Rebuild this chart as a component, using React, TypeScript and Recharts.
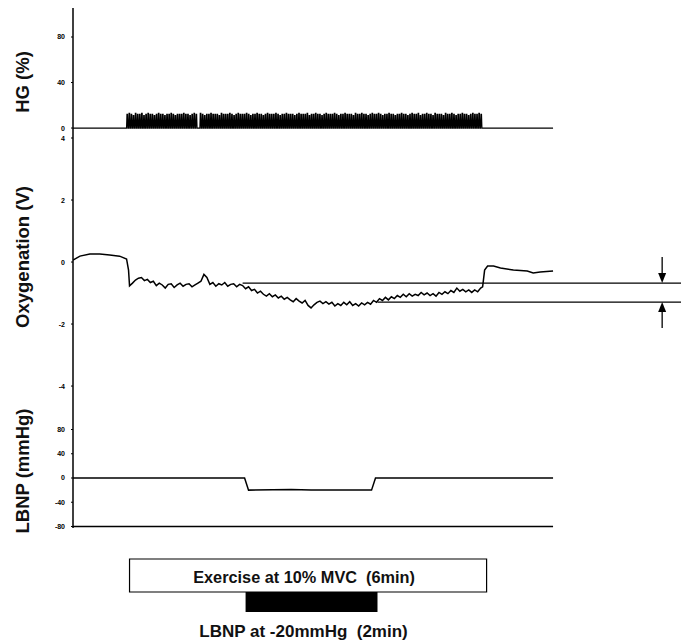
import { LineChart, Line, XAxis, YAxis, ReferenceLine, ReferenceArea } from "recharts";

const FONT = "'Liberation Sans', Arial, Helvetica, sans-serif";

// time axis in seconds; the plot runs on to the right page edge
const T_MAX = 613;
const T_END = 484;

const hgSpan = [54, 413];
const exerciseSpan = [57, 417];
const lbnpSpan = [174, 307];

const hgTicks = [0, 40, 80];
const oxyTicks = [-4, -2, 0, 2, 4];
const lbnpTicks = [-80, -40, 0, 40, 80];

// handgrip force, peak of each contraction (%)
const hgPeaks = [
  12, 13, 12, 11, 13, 12, 12, 13, 11, 12,
  13, 12, 12, 11, 12, 13, 12, 12, 11, 12,
  12, 13, 12, 11, 12, 12, 12, 13, 12, 12,
  11, 12, 13, 12, 0, 13, 12, 11, 12, 12,
  13, 12, 12, 12, 11, 13, 12, 12, 12, 13,
  12, 11, 12, 13, 12, 12, 12, 13, 12, 11,
  12, 12, 13, 12, 12, 11, 12, 13, 12, 12,
  12, 13, 12, 11, 12, 12, 13, 12, 12, 12,
  11, 12, 13, 12, 12, 12, 13, 11, 12, 12,
  13, 12, 12, 11, 12, 13, 12, 12, 12, 13,
  12, 11, 12, 12, 13, 12, 12, 12, 11, 13,
  12, 12, 13, 12, 12, 11, 12, 13, 12, 12,
  13, 12, 11, 12, 12, 13, 12, 12, 11, 12,
  12, 13, 12, 12, 11, 12, 13, 12, 12, 13,
  11, 12, 12, 13, 12, 12, 11, 13, 12, 12,
  12, 11, 13, 12, 12, 13, 12, 11, 12, 12,
  13, 12, 12, 11, 12, 13, 12, 12, 13, 12,
];

// oxygenation trace (s, V)
const oxyTime = [
  0, 7, 17, 27, 37, 47, 54, 56, 57,
  60, 63, 66, 69, 72, 75, 78, 81, 84, 87, 90, 93, 96, 99, 102, 105, 108, 111, 114, 117,
  120, 123, 126, 129, 132, 135, 138, 141, 144, 147, 150, 153, 156, 159, 162, 165, 168, 171, 174, 177,
  180, 183, 186, 189, 192, 195, 198, 201, 204, 207, 210, 213, 216, 219, 222, 225, 228, 231, 234, 237,
  240, 243, 246, 249, 252, 255, 258, 261, 264, 267, 270, 273, 276, 279, 282, 285, 288, 291, 294, 297,
  300, 303, 306, 309, 312, 315, 318, 321, 324, 327, 330, 333, 336, 339, 342, 345, 348, 351, 354, 357,
  360, 363, 366, 369, 372, 375, 378, 381, 384, 387, 390, 393, 396, 399, 402, 405, 408, 411,
  413, 415, 418, 424, 431, 444, 458, 464, 471, 484,
];
const oxyValue = [
  0.06, 0.19, 0.26, 0.26, 0.23, 0.19, 0.1, -0.26, -0.77,
  -0.68, -0.58, -0.52, -0.5, -0.6, -0.56, -0.66, -0.62, -0.76, -0.68, -0.74, -0.84, -0.72, -0.7, -0.82, -0.74, -0.68, -0.78, -0.72, -0.7,
  -0.8, -0.74, -0.68, -0.62, -0.4, -0.5, -0.72, -0.66, -0.78, -0.7, -0.74, -0.66, -0.78, -0.72, -0.7, -0.8, -0.72, -0.76, -0.86, -0.8,
  -0.92, -0.88, -1.0, -0.94, -1.04, -1.1, -1.02, -1.12, -1.06, -1.16, -1.1, -1.2, -1.14, -1.22, -1.28, -1.18, -1.26, -1.32, -1.24, -1.4,
  -1.48, -1.38, -1.3, -1.26, -1.34, -1.28, -1.36, -1.3, -1.42, -1.34, -1.4, -1.3, -1.38, -1.28, -1.4, -1.34, -1.42, -1.32, -1.38, -1.3,
  -1.36, -1.24, -1.3, -1.18, -1.24, -1.14, -1.22, -1.12, -1.18, -1.08, -1.14, -1.04, -1.12, -1.02, -1.1, -1.04, -1.08, -0.98, -1.06, -1.0,
  -1.08, -1.02, -1.1, -0.98, -1.04, -0.96, -1.02, -0.92, -0.98, -0.84, -0.94, -0.88, -0.96, -0.9, -0.98, -0.9, -0.96, -0.84,
  -0.8, -0.26, -0.13, -0.13, -0.19, -0.26, -0.29, -0.35, -0.32, -0.29,
];
const oxyRestLevel = -0.68;
const oxyLbnpLevel = -1.29;
const oxyRestFrom = 171;
const oxyLbnpFrom = 307;
const arrowAt = 594;
const arrowDownFrom = 0.16;
const arrowUpFrom = -2.13;

// lower body negative pressure (s, mmHg)
const lbnpTime = [0, 173, 177, 220, 240, 301, 305, T_END];
const lbnpValue = [0, 0, -20, -19, -20, -20, 0, 0];

const hgData: { t: number; v: number }[] = [{ t: 0, v: 0 }];
const period = (hgSpan[1] - hgSpan[0]) / hgPeaks.length;
hgPeaks.forEach((p, i) => {
  const t0 = hgSpan[0] + i * period;
  hgData.push(
    { t: t0, v: 0 },
    { t: t0 + 0.2 * period, v: p },
    { t: t0 + 0.45 * period, v: p },
    { t: t0 + 0.65 * period, v: 0 }
  );
});
hgData.push({ t: hgSpan[1], v: 0 }, { t: T_END, v: 0 });

const oxyData = oxyTime.map((t, i) => ({ t, v: oxyValue[i] }));
const lbnpData = lbnpTime.map((t, i) => ({ t, v: lbnpValue[i] }));
const phaseData = [
  { t: exerciseSpan[0], v: 0 },
  { t: exerciseSpan[1], v: 0 },
];

const W = 681;
const AXIS_W = 73;
const margin = { top: 6, right: 0, bottom: 12, left: 0 };

function AxisTitle({ value, cy }: { value: string; cy: number }) {
  return (
    <text
      x={22}
      y={cy}
      transform={`rotate(-90 22 ${cy})`}
      textAnchor="middle"
      dominantBaseline="central"
      fontFamily={FONT}
      fontWeight={700}
      fontSize={18.5}
      fill="#111"
    >
      {value}
    </text>
  );
}

function Arrow(props: any) {
  const { x1, y1, x2, y2 } = props;
  const dir = y2 > y1 ? 1 : -1;
  return (
    <g>
      <line x1={x1} y1={y1} x2={x2} y2={y2 - dir * 8} stroke="#000" strokeWidth={1.3} />
      <polygon points={`${x2},${y2} ${x2 - 4},${y2 - dir * 10} ${x2 + 4},${y2 - dir * 10}`} fill="#000" />
    </g>
  );
}

function Panel({ top, plotH, domain, ticks, title, titleY, children }: any) {
  return (
    <div style={{ position: "absolute", left: 0, top: top - margin.top }}>
      <LineChart width={W} height={plotH + margin.top + margin.bottom} margin={margin}>
        <XAxis type="number" dataKey="t" domain={[0, T_MAX]} hide allowDataOverflow />
        <YAxis
          type="number"
          domain={domain}
          ticks={ticks}
          interval={0}
          allowDataOverflow
          width={AXIS_W}
          axisLine={{ stroke: "#000", strokeWidth: 1.5 }}
          tickLine={{ stroke: "#000", strokeWidth: 1 }}
          tickSize={2}
          tickMargin={6}
          tick={{ fontSize: 7, fill: "#000", fontFamily: FONT, fontWeight: 700 }}
          label={<AxisTitle value={title} cy={titleY - top + margin.top} />}
        />
        {children}
      </LineChart>
    </div>
  );
}

export default function App() {
  return (
    <div style={{ position: "fixed", left: 0, top: 0, width: W, height: 643, background: "#fff" }}>
      <Panel top={8} plotH={128} domain={[-7, 105.5]} ticks={hgTicks} title="HG (%)" titleY={82}>
        <Line data={hgData} dataKey="v" type="linear" stroke="#000" strokeWidth={1.2} dot={false} isAnimationActive={false} />
      </Panel>

      <Panel top={136} plotH={264} domain={[-4.45, 4.065]} ticks={oxyTicks} title="Oxygenation (V)" titleY={257}>
        <ReferenceLine segment={[{ x: oxyRestFrom, y: oxyRestLevel }, { x: T_MAX, y: oxyRestLevel }]} stroke="#000" strokeWidth={1.3} />
        <ReferenceLine segment={[{ x: oxyLbnpFrom, y: oxyLbnpLevel }, { x: T_MAX, y: oxyLbnpLevel }]} stroke="#000" strokeWidth={1.3} />
        <ReferenceLine segment={[{ x: arrowAt, y: arrowDownFrom }, { x: arrowAt, y: oxyRestLevel }]} shape={Arrow} />
        <ReferenceLine segment={[{ x: arrowAt, y: arrowUpFrom }, { x: arrowAt, y: oxyLbnpLevel }]} shape={Arrow} />
        <Line data={oxyData} dataKey="v" type="linear" stroke="#000" strokeWidth={1.5} dot={false} isAnimationActive={false} />
      </Panel>

      <Panel top={400} plotH={128} domain={[-82.5, 128.7]} ticks={lbnpTicks} title="LBNP (mmHg)" titleY={471}>
        <ReferenceLine segment={[{ x: 0, y: -80 }, { x: T_END, y: -80 }]} stroke="#000" strokeWidth={1.3} />
        <Line data={lbnpData} dataKey="v" type="linear" stroke="#000" strokeWidth={1.5} dot={false} isAnimationActive={false} />
      </Panel>

      <div style={{ position: "absolute", left: 0, top: 540 }}>
        <LineChart width={W} height={103} data={phaseData} margin={{ top: 0, right: 0, bottom: 0, left: AXIS_W }}>
          <XAxis type="number" dataKey="t" domain={[0, T_MAX]} allowDataOverflow hide />
          <YAxis type="number" domain={[0, 103]} allowDataOverflow reversed hide />
          <Line dataKey="v" stroke="none" dot={false} isAnimationActive={false} />
          <ReferenceArea
            x1={exerciseSpan[0]}
            x2={exerciseSpan[1]}
            y1={19}
            y2={52}
            fill="#fff"
            fillOpacity={1}
            stroke="#000"
            strokeWidth={1.2}
            label={{ value: "Exercise at 10% MVC\u00a0 (6min)", position: "center", dx: -4, dy: 2, fontSize: 16.3, fontWeight: 700, fill: "#111", fontFamily: FONT }}
          />
          <ReferenceArea
            x1={lbnpSpan[0]}
            x2={lbnpSpan[1]}
            y1={52}
            y2={72}
            fill="#000"
            fillOpacity={1}
            label={{ value: "LBNP at -20mmHg\u00a0 (2min)", position: "bottom", offset: 13, dx: -8, fontSize: 17, fontWeight: 700, fill: "#111", fontFamily: FONT }}
          />
        </LineChart>
      </div>
    </div>
  );
}
